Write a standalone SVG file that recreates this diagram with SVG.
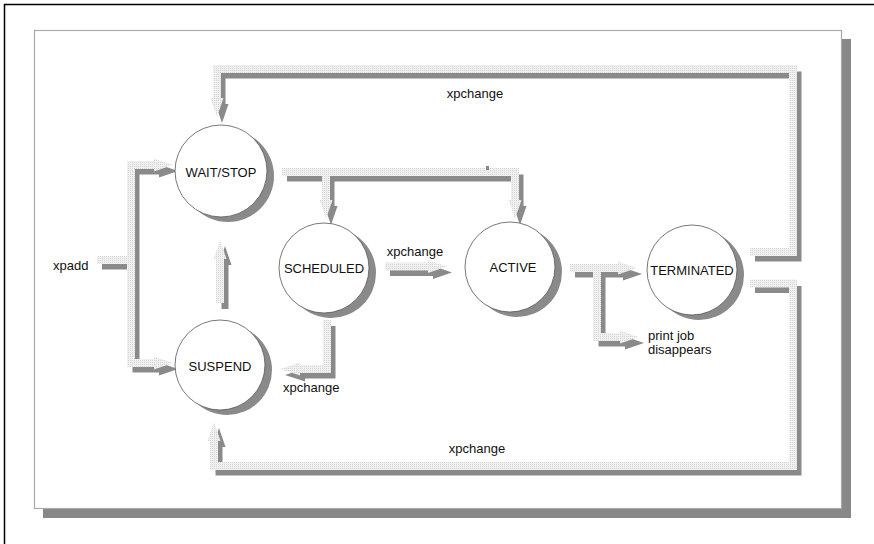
<svg xmlns="http://www.w3.org/2000/svg" width="874" height="544" viewBox="0 0 874 544">
<style>
.txt{font-family:"Liberation Sans",Arial,sans-serif;font-size:13px;fill:#111}
.lbl{text-anchor:middle}
.ls{fill:none;stroke:url(#st);stroke-width:8;stroke-linejoin:miter}
.lh{fill:url(#st)}
.ds{fill:none;stroke:#8a8a8a;stroke-width:7;stroke-linejoin:miter}
.dh{fill:#8a8a8a}
.node circle.c{fill:#fff;stroke:#555;stroke-width:0.8}
.node circle.s{fill:#8a8a8a}
</style>
<defs>
<pattern id="st" width="2" height="2" patternUnits="userSpaceOnUse">
<rect width="2" height="2" fill="#f0f0f0"/>
<rect width="1" height="1" fill="#d6d6d6"/>
</pattern>
</defs>
<rect width="874" height="544" fill="#fff"/>
<path d="M4.5,544 V4.5 H874" fill="none" stroke="#000" stroke-width="1.5"/>
<rect x="43" y="39" width="808" height="479" fill="#888"/>
<rect x="34.5" y="30.5" width="807" height="478" fill="#fff" stroke="#aaa" stroke-width="1.2"/>

<g id="connectors">
<g id="shadows" transform="translate(5,6)">
<path class="ds" d="M750,252 H793 V69 H217 V100"/>
<polygon class="dh" points="210.5,98 223.5,98 217,117"/>
<path class="ds" d="M750,283.5 H793 V466 H214 V440"/>
<polygon class="dh" points="207.5,441 220.5,441 214,422"/>
<path class="ds" d="M97,260 H131"/>
<path class="ds" d="M156,165 H131 V363 H156"/>
<polygon class="dh" points="154,158.5 154,171.5 173,165"/>
<polygon class="dh" points="154,356.5 154,369.5 173,363"/>
<path class="ds" d="M220,303 V258"/>
<polygon class="dh" points="213.5,259 226.5,259 220,240"/>
<path class="ds" d="M282,172 H515 V201 M326,172 V201"/>
<polygon class="dh" points="319.5,200 332.5,200 326,219"/>
<polygon class="dh" points="508.5,200 521.5,200 515,219"/>
<path class="ds" d="M385,266.5 H429"/>
<polygon class="dh" points="428,260 428,273 447,266.5"/>
<path class="ds" d="M327,320 V369 H299"/>
<polygon class="dh" points="300,362.5 300,375.5 280,369"/>
<path class="ds" d="M570,268 H619 M597,268 V337 H621"/>
<polygon class="dh" points="618,261.5 618,274.5 637,268"/>
<polygon class="dh" points="620,330.5 620,343.5 639,337"/>
</g>
<g id="c-terminated-waitstop">
<path class="ls" d="M750,252 H793 V69 H217 V100"/>
<polygon class="lh" points="210.5,98 223.5,98 217,117"/>
</g>
<g id="c-terminated-suspend">
<path class="ls" d="M750,283.5 H793 V466 H214 V440"/>
<polygon class="lh" points="207.5,441 220.5,441 214,422"/>
</g>
<g id="c-xpadd">
<path class="ls" d="M97,260 H131"/>
<path class="ls" d="M156,165 H131 V363 H156"/>
<polygon class="lh" points="154,158.5 154,171.5 173,165"/>
<polygon class="lh" points="154,356.5 154,369.5 173,363"/>
</g>
<g id="c-suspend-waitstop">
<path class="ls" d="M220,303 V258"/>
<polygon class="lh" points="213.5,259 226.5,259 220,240"/>
</g>
<g id="c-waitstop-sched-active">
<path class="ls" d="M282,172 H515 V201 M326,172 V201"/>
<polygon class="lh" points="319.5,200 332.5,200 326,219"/>
<polygon class="lh" points="508.5,200 521.5,200 515,219"/>
<rect x="486" y="166" width="3" height="4" class="dh"/>
</g>
<g id="c-sched-active">
<path class="ls" d="M385,266.5 H429"/>
<polygon class="lh" points="428,260 428,273 447,266.5"/>
</g>
<g id="c-sched-suspend">
<path class="ls" d="M327,320 V369 H299"/>
<polygon class="lh" points="300,362.5 300,375.5 280,369"/>
</g>
<g id="c-active-terminated">
<path class="ls" d="M570,268 H619 M597,268 V337 H621"/>
<polygon class="lh" points="618,261.5 618,274.5 637,268"/>
<polygon class="lh" points="620,330.5 620,343.5 639,337"/>
</g>
<g id="edge-labels">
<text class="txt lbl" x="475" y="98">xpchange</text>
<text class="txt lbl" x="477" y="453">xpchange</text>
<text class="txt lbl" x="415" y="256">xpchange</text>
<text class="txt" x="283" y="392">xpchange</text>
<text class="txt" x="53" y="270">xpadd</text>
<text class="txt" x="648" y="340">print job</text>
<text class="txt" x="648" y="354">disappears</text>
</g>
</g>

<g id="n-waitstop" class="node">
<circle class="s" cx="228" cy="176" r="46"/>
<circle class="c" cx="221" cy="171" r="46"/>
<text class="txt lbl" x="221" y="177">WAIT/STOP</text>
</g>
<g id="n-scheduled" class="node">
<circle class="s" cx="331" cy="273" r="45"/>
<circle class="c" cx="324" cy="268" r="45"/>
<text class="txt lbl" x="324" y="273">SCHEDULED</text>
</g>
<g id="n-active" class="node">
<circle class="s" cx="517" cy="272" r="45"/>
<circle class="c" cx="510" cy="267" r="45"/>
<text class="txt lbl" x="513" y="272">ACTIVE</text>
</g>
<g id="n-terminated" class="node">
<circle class="s" cx="699" cy="275" r="45"/>
<circle class="c" cx="692" cy="270" r="45"/>
<text class="txt lbl" x="692" y="275">TERMINATED</text>
</g>
<g id="n-suspend" class="node">
<circle class="s" cx="227" cy="370" r="45"/>
<circle class="c" cx="220" cy="365" r="45"/>
<text class="txt lbl" x="220" y="371">SUSPEND</text>
</g>
</svg>
